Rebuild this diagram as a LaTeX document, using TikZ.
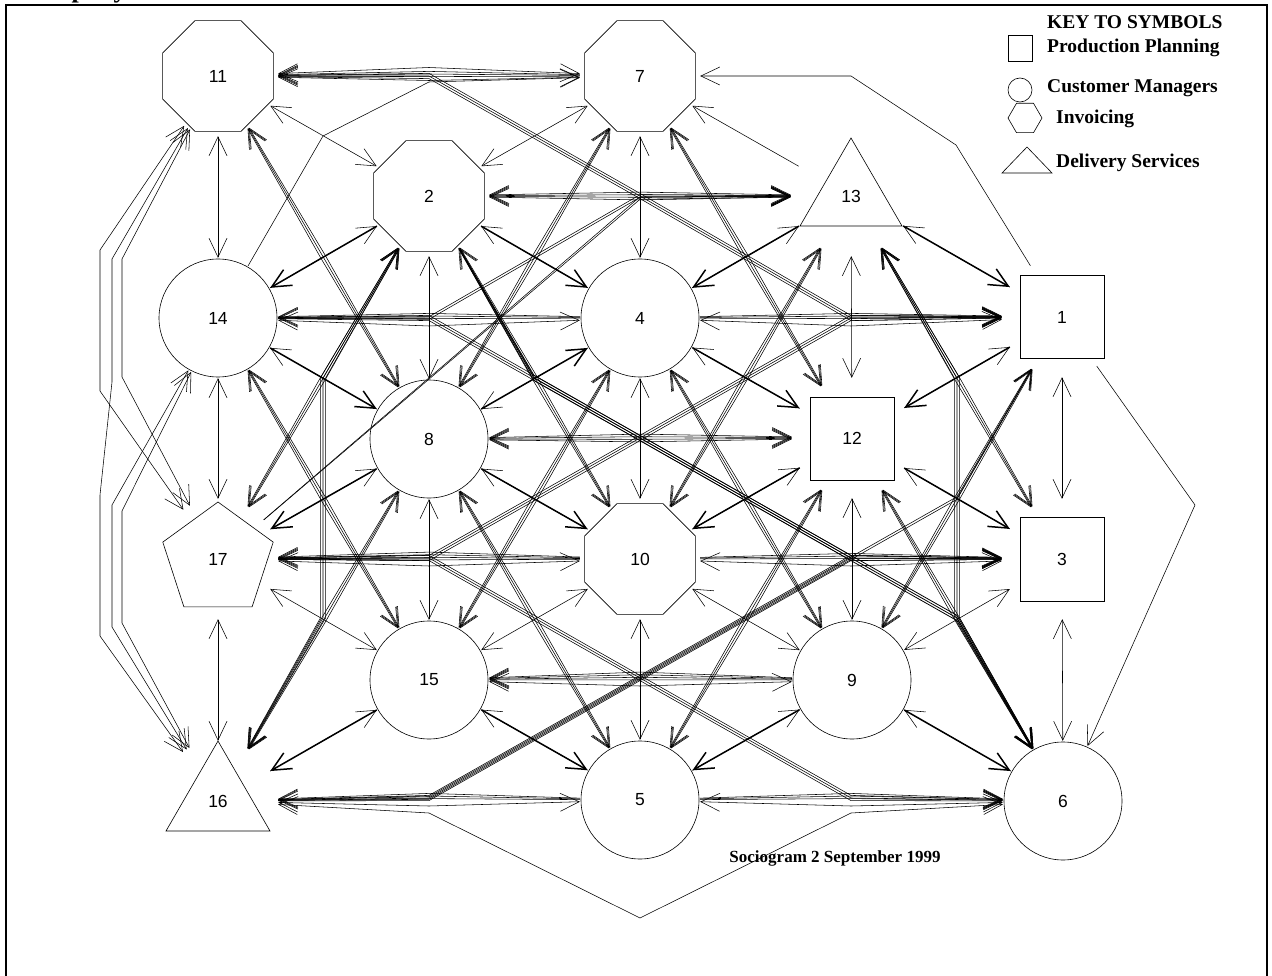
\documentclass[tikz,border=0pt]{standalone}
\usepackage{fontspec}
\setmainfont{Liberation Serif}
\newfontfamily\arialf{Liberation Sans}
\usetikzlibrary{arrows.meta,calc}
\newcommand\mybund[4]{%
  \foreach \i in {1,...,#1}{%
    \pgfmathsetmacro\o{(\i-(#1+1)/2)*2.6}%
    \draw[#2] (#3) -- ($(#3)!0.5!(#4)!\o pt!90:(#4)$) -- (#4);
  }}
\newcommand\myroute[5]{%
  \foreach \i in {1,...,#1}{%
    \pgfmathsetmacro\o{(\i-(#1+1)/2)*2.6}%
    \draw[#2] (#3) -- #5 -- (#4);
  }}
\newcommand\octo[1]{\draw[shp,shift={(#1)}] (22.5:60) -- (67.5:60) -- (112.5:60) -- (157.5:60) -- (202.5:60) -- (247.5:60) -- (292.5:60) -- (337.5:60) -- cycle;}
\begin{document}
\begin{tikzpicture}[x=1pt,y=-1pt,
  >={Straight Barb[length=19pt,width=18pt]},
  shp/.style={draw=black,line width=0.6pt},
  hub/.style={circle,minimum size=120pt,inner sep=0pt,font=\arialf\fontsize{17.5}{19}\selectfont},
  thn/.style={line width=0.55pt},
  hvy/.style={line width=1.5pt},
  keytxt/.style={anchor=west,inner sep=0pt,font=\bfseries\fontsize{19.5}{22}\selectfont},
]
\useasboundingbox (0,0) rectangle (1272,976);
% frame
\draw[line width=2.5pt] (6,980) -- (6,5) -- (1267,5) -- (1267,980);
\node[anchor=base west,inner sep=0pt,font=\bfseries\fontsize{26}{28}\selectfont] (ttl) at (18,-2) {Company};

% shapes
\octo{218,76}
\octo{640,76}
\octo{429,196}
\octo{640,559}
\draw[shp] (851,138) -- (902,226) -- (800,226) -- cycle;
\draw[shp] (218,741) -- (270,831) -- (166,831) -- cycle;
\draw[shp] (218,502) -- (273.2,542.1) -- (252.1,606.9) -- (183.9,606.9) -- (162.8,542.1) -- cycle;
\draw[shp] (1020,275) rectangle (1104,358);
\draw[shp] (1020,517) rectangle (1104,601);
\draw[shp] (810,397) rectangle (894,480);
\foreach \p in {{218,318},{640,318},{429,439},{429,680},{852,680},{640,800},{1063,801}}
  \draw[shp] (\p) circle[radius=59];

% hub nodes
\node[hub] (n11) at (218,76) {11};
\node[hub] (n7) at (640,76) {7};
\node[hub] (n2) at (429,196) {2};
\node[hub] (n13) at (851,196) {13};
\node[hub] (n14) at (218,318) {14};
\node[hub] (n4) at (640,318) {4};
\node[hub] (n1) at (1062,317) {1};
\node[hub] (n8) at (429,439) {8};
\node[hub] (n12) at (852,438) {12};
\node[hub] (n17) at (218,559) {17};
\node[hub] (n10) at (640,559) {10};
\node[hub] (n3) at (1062,559) {3};
\node[hub] (n15) at (429,680) {15};
\node[hub] (n9) at (852,680) {9};
\node[hub] (n16) at (218,801) {16};
\node[hub] (n5) at (640,800) {5};
\node[hub] (n6) at (1063,801) {6};

% vertical neighbours
\foreach \a/\b in {n11/n14,n14/n17,n17/n16,n2/n8,n8/n15,n7/n4,n4/n10,n10/n5,n13/n12,n12/n9,n1/n3,n3/n6}
  \draw[thn,<->] (\a) -- (\b);
% 30 degree thin
\foreach \a/\b in {n11/n2,n2/n7,n17/n15,n15/n10,n10/n9,n9/n3}
  \draw[thn,<->] (\a) -- (\b);
% 30 degree heavy
\foreach \a/\b in {n2/n14,n2/n4,n14/n8,n8/n4,n13/n4,n13/n1,n4/n12,n1/n12,n8/n17,n8/n10,n12/n10,n12/n3,n15/n16,n15/n5,n9/n5,n9/n6}
  {\draw[hvy,->] (\a) -- (\b); \draw[thn,<-] (\a) -- (\b);}
% 60 degree bundles
\foreach \a/\b in {n11/n8,n7/n8,n7/n12,n2/n17,n2/n10,n13/n10,n13/n3,n4/n15,n4/n9,n1/n9,n14/n15,n8/n16,n8/n5,n12/n5,n12/n6}
  {\mybund{3}{thn,<->}{\a}{\b}}

% row bundles
\myroute{3}{thn,<-}{n11}{n7}{(429,74+\o)}
\myroute{2}{thn,<->}{n11}{n7}{(429,74+5*\o)}
\myroute{4}{thn,<->}{n2}{n13}{(640,196+\o)}
\myroute{3}{thn,<-}{n14}{n4}{(429,316+\o)}
\myroute{1}{thn,<->}{n14}{n4}{(429,326+\o)}
\myroute{3}{thn,->}{n4}{n1}{(851,316+\o)}
\myroute{1}{thn,<->}{n4}{n1}{(851,326+\o)}
\myroute{4}{thn,<->}{n8}{n12}{(640,438+\o)}
\myroute{4}{thn,<-}{n17}{n10}{(429,556+\o)}
\myroute{1}{thn,<->}{n17}{n10}{(429,566+\o)}
\myroute{3}{thn,->}{n10}{n3}{(851,556+\o)}
\myroute{1}{thn,<->}{n10}{n3}{(851,566+\o)}
\myroute{4}{thn,<-}{n15}{n9}{(640,676+\o)}
\myroute{1}{thn,<->}{n15}{n9}{(640,686+\o)}
\myroute{3}{thn,<-}{n16}{n5}{(429,796+\o)}
\myroute{1}{thn,<->}{n16}{n5}{(429,806+\o)}
\myroute{3}{thn,->}{n5}{n6}{(851,796+\o)}
\myroute{1}{thn,<->}{n5}{n6}{(851,806+\o)}

% long routed edges
\myroute{3}{thn,->}{n11}{n1}{(429,76+\o) -- (640,196+\o) -- (851,318+\o)}
\myroute{2}{thn,->}{n14}{n13}{(429,318+\o) -- (640,196+\o)}
\myroute{2}{thn,->}{n17}{n13}{(640,198+\o)}
\myroute{3}{thn,->}{n14}{n3}{(429,318+\o) -- (640,438+\o) -- (851,558+\o)}
\myroute{3}{thn,->}{n17}{n1}{(429,558+\o) -- (640,438+\o) -- (851,318+\o)}
\myroute{3}{thn,->}{n17}{n6}{(429,558+\o) -- (640,678+\o) -- (851,798+\o)}
\myroute{3}{thn,->}{n16}{n3}{(429,798+\o) -- (640,678+\o) -- (851,558+\o)}
\myroute{2}{thn,->}{n16}{n1}{(429,798+\o) -- (640,678+\o) -- (957,498+\o)}
\myroute{1}{thn,<->}{n16}{n6}{(429,813) -- (640,918) -- (851,813)}
\myroute{3}{line width=0.8pt,->}{n2}{n6}{(534,378+\o) -- (640,438+\o) -- (851,558+\o) -- (957,618+\o)}
\myroute{3}{thn,<->}{n16}{n2}{(323+\o,618) -- (323+\o,378)}
\myroute{3}{thn,<->}{n6}{n13}{(957+\o,618) -- (957+\o,378)}
\myroute{1}{thn,->}{n1}{n7}{(956,145) -- (851,76)}
\myroute{1}{thn,->}{n1}{n6}{(1195,505)}
\myroute{1}{thn,->}{n14}{n7}{(323,136) -- (429,82)}
\draw[thn,->] (n13) -- (n7);
% left side routes
\myroute{1}{thn,<->}{n11}{n17}{(100,250) -- (100,391)}
\myroute{1}{thn,<->}{n11}{n16}{(112,259) -- (112,382) -- (100,495) -- (100,636)}
\myroute{1}{thn,<->}{n11}{n17}{(122,259) -- (122,377)}
\myroute{1}{thn,<->}{n14}{n16}{(112,505) -- (112,627)}
\myroute{1}{thn,<->}{n14}{n16}{(122,511) -- (122,623)}

% key
\node[anchor=west,inner sep=0pt,font=\bfseries\fontsize{19.5}{22}\selectfont] (kh) at (1047,22) {KEY TO SYMBOLS};
\draw[shp] (1008,35) rectangle (1032,61);
\node[keytxt] (k1) at (1047,48) {Production Planning};
\draw[shp] (1020,90) circle[radius=12];
\node[keytxt] (k2) at (1047,88) {Customer Managers};
\draw[shp] (1042,118) -- (1033.5,103.3) -- (1016.5,103.3) -- (1008,118) -- (1016.5,132.7) -- (1033.5,132.7) -- cycle;
\node[keytxt] (k3) at (1056,119) {Invoicing};
\draw[shp] (1002,173) -- (1052,173) -- (1027,147) -- cycle;
\node[keytxt] (k4) at (1056,163) {Delivery Services};

\node[font=\bfseries\fontsize{17}{20}\selectfont,inner sep=0pt] (cap) at (835,858) {Sociogram 2 September 1999};
\end{tikzpicture}
\end{document}
